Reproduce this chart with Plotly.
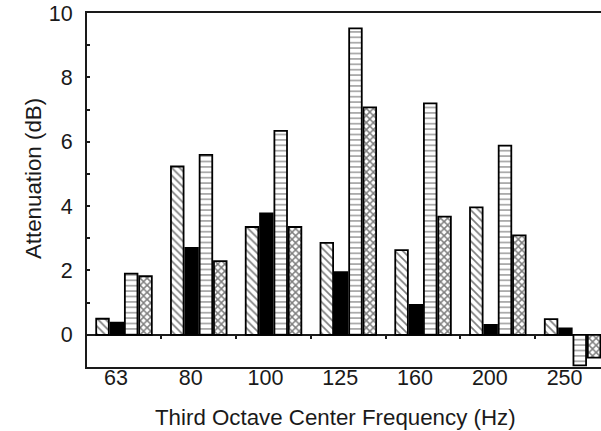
import plotly.graph_objects as go

# Third-octave band centre frequencies (Hz)
frequencies = ["63", "80", "100", "125", "160", "200", "250"]

# Attenuation per band (dB) for the four configurations
atten_diagonal = [0.50, 5.23, 3.35, 2.86, 2.63, 3.96, 0.49]
atten_solid = [0.38, 2.70, 3.77, 1.95, 0.93, 0.31, 0.20]
atten_horizontal = [1.90, 5.59, 6.34, 9.52, 7.19, 5.88, -0.95]
atten_crosshatch = [1.82, 2.29, 3.35, 7.07, 3.67, 3.09, -0.71]

y_tick_values = [0, 2, 4, 6, 8, 10]

INK = "#1a1a1a"
FONT = "Liberation Sans, Arial, sans-serif"

series = [
    ("Configuration 1", atten_diagonal, dict(shape="\\", size=5.5, solidity=0.3)),
    ("Configuration 2", atten_solid, None),
    ("Configuration 3", atten_horizontal, dict(shape="-", size=5.4, solidity=0.22)),
    ("Configuration 4", atten_crosshatch, dict(shape="x", size=5, solidity=0.5)),
]

fig = go.Figure()
for name, values, pattern in series:
    if pattern is None:
        marker = dict(color="black", line=dict(color="black", width=1.8))
    else:
        marker = dict(
            color="white",
            line=dict(color="black", width=1.8),
            pattern=dict(fgcolor="black", bgcolor="white", fillmode="overlay", **pattern),
        )
    fig.add_trace(go.Bar(x=frequencies, y=values, name=name, marker=marker,
                         showlegend=False, hoverinfo="skip"))

# Helper trace so the axis along y = 0 (boundary ticks + band labels) is drawn
fig.add_trace(go.Scatter(x=frequencies, y=[None] * len(frequencies), xaxis="x2",
                         mode="markers", showlegend=False, hoverinfo="skip"))

y_min, y_max = -1, 10

fig.update_layout(
    width=601,
    height=431,
    margin=dict(l=87, r=0, t=13, b=64),
    paper_bgcolor="white",
    plot_bgcolor="white",
    barmode="group",
    bargap=0.233,
    bargroupgap=0.12,
    font=dict(family=FONT, size=21, color=INK),
    xaxis=dict(
        type="category",
        categoryorder="array",
        categoryarray=frequencies,
        range=[-0.495, 6.38],
        showline=True,
        mirror=True,
        linecolor=INK,
        linewidth=2,
        ticks="",
        showticklabels=False,
        showgrid=False,
        zeroline=False,
    ),
    xaxis2=dict(
        type="category",
        categoryorder="array",
        categoryarray=frequencies,
        overlaying="x",
        matches="x",
        anchor="free",
        position=(0 - y_min) / (y_max - y_min),
        tickson="boundaries",
        ticks="outside",
        ticklen=3,
        tickwidth=1.5,
        tickcolor=INK,
        showticklabels=True,
        ticklabelshift=-8,
        ticklabelstandoff=28,
        tickfont=dict(size=21.5, color=INK),
        showline=False,
        showgrid=False,
        zeroline=False,
    ),
    yaxis=dict(
        range=[y_min, y_max],
        tickvals=y_tick_values,
        ticks="inside",
        ticklen=3,
        tickwidth=2,
        tickcolor=INK,
        minor=dict(dtick=1, tick0=0, ticks="inside", ticklen=3, tickwidth=2, tickcolor=INK),
        showline=True,
        mirror=False,
        linecolor=INK,
        linewidth=2,
        showgrid=False,
        zeroline=True,
        zerolinecolor=INK,
        zerolinewidth=1.5,
        ticklabelstandoff=8,
        tickfont=dict(size=21.5, color=INK),
    ),
    annotations=[
        dict(text="Third Octave Center Frequency (Hz)", xref="paper", yref="paper",
             x=0.4825, y=-0.144, xanchor="center", yanchor="middle", showarrow=False,
             font=dict(size=22.3, color=INK)),
        dict(text="Attenuation (dB)", xref="paper", yref="paper",
             x=-0.105, y=0.531, xanchor="center", yanchor="middle", textangle=-90,
             showarrow=False, font=dict(size=22.3, color=INK)),
    ],
)

fig.write_html("out.html")
